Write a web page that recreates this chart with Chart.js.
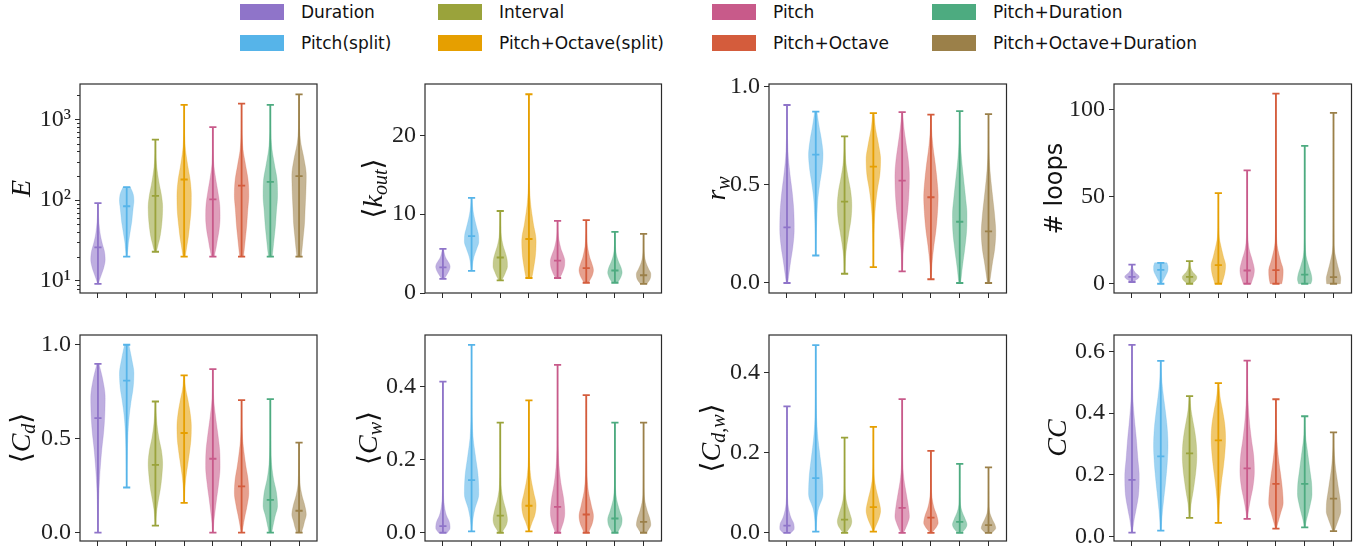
<!DOCTYPE html>
<html>
<head>
<meta charset="utf-8">
<script src="https://cdn.jsdelivr.net/npm/chart.js@4.4.1/dist/chart.umd.min.js"></script>
<style>
  body { margin: 0; background: #fff; }
  #page { position: relative; width: 1367px; height: 557px; overflow: hidden; background: #fff; }
  canvas { position: absolute; }
  .item { position: absolute; display: flex; align-items: center; height: 16px; white-space: nowrap;
          font: 17px "DejaVu Sans", sans-serif; color: #111; }
  .sw { display: inline-block; width: 44px; height: 16px; margin-right: 17px; }
</style>
</head>
<body>
<div id="page"></div>
<script>
// ---- data ----
var groups = ['Duration', 'Pitch(split)', 'Interval', 'Pitch+Octave(split)',
              'Pitch', 'Pitch+Octave', 'Pitch+Duration', 'Pitch+Octave+Duration'];
var colors = ['#8f74c9', '#56b4e9', '#9aa33b', '#e69f00', '#c85a8a', '#d45c3c', '#4dab80', '#9b8049'];

// violin outline is sampled at these fractions between min and max (axis space)
var shapeT = [0, 0.03, 0.07, 0.12, 0.2, 0.3, 0.4, 0.5, 0.6, 0.7, 0.8, 0.9, 1];

// E (log axis)
var eTicks = [10, 100, 1000];
var eMin = [9.2, 20, 23, 20, 20, 20, 20, 20];
var eMax = [92, 145, 560, 1510, 800, 1560, 1510, 2040];
var eMed = [26, 84, 113, 180, 102, 151, 168, 198];
var eShape = [
    [.05, .15, .3, .5, .8, 1, .9, .6, .35, .2, .1, .05, .02],
    [.05, .08, .12, .18, .25, .4, .55, .7, .8, .9, 1, .9, .5],
    [.1, .25, .4, .6, .8, .95, 1, .85, .55, .3, .12, .05, .02],
    [.15, .25, .38, .55, .75, .95, 1, .85, .5, .2, .06, .02, .01],
    [.2, .3, .45, .6, .85, 1, .95, .7, .4, .15, .05, .02, .01],
    [.25, .33, .42, .53, .7, .85, 1, .9, .55, .2, .06, .02, .01],
    [.25, .33, .42, .53, .7, .85, 1, .95, .6, .25, .07, .02, .01],
    [.3, .38, .47, .58, .75, .85, .95, 1, .7, .25, .06, .02, .01]
];

// <k_out>
var kTicks = [0, 10, 20];
var kMin = [1.8, 2.8, 1.6, 1.9, 1.9, 1.3, 1.3, 1.15];
var kMax = [5.6, 12.05, 10.4, 25.2, 9.15, 9.25, 7.75, 7.5];
var kMed = [3.25, 7.2, 4.5, 6.85, 4.1, 3.15, 2.85, 2.25];
var kShape = [
    [.2, .27, .37, .5, .7, .9, 1, .9, .65, .4, .25, .15, .05],
    [.05, .08, .12, .18, .35, .7, 1, .95, .7, .45, .25, .12, .05],
    [.2, .35, .55, .75, 1, .95, .7, .4, .2, .1, .05, .03, .02],
    [.4, .55, .72, .9, 1, .6, .25, .08, .03, .015, .01, .01, .01],
    [.3, .42, .58, .75, .95, 1, .8, .5, .3, .15, .08, .04, .02],
    [.3, .45, .65, .85, 1, .8, .5, .3, .15, .08, .04, .02, .01],
    [.35, .5, .68, .85, 1, .85, .55, .3, .15, .08, .04, .02, .01],
    [.45, .6, .8, .95, 1, .7, .4, .2, .1, .05, .03, .02, .01]
];

// r_w
var rTicks = [0, 0.5, 1.0];
var rMin = [0.0, 0.14, 0.047, 0.081, 0.059, 0.019, 0.0, 0.0];
var rMax = [0.907, 0.873, 0.747, 0.866, 0.871, 0.858, 0.876, 0.861];
var rMed = [0.283, 0.654, 0.415, 0.593, 0.522, 0.437, 0.312, 0.263];
var rShape = [
    [.1, .2, .33, .5, .8, 1, .95, .75, .45, .2, .08, .03, .01],
    [.02, .03, .04, .05, .1, .18, .3, .55, .85, 1, .8, .45, .15],
    [.03, .05, .08, .12, .3, .6, .9, 1, .85, .5, .2, .07, .02],
    [.02, .03, .035, .045, .08, .15, .3, .55, .9, 1, .7, .3, .08],
    [.03, .06, .09, .14, .3, .55, .8, .95, 1, .85, .55, .25, .05],
    [.03, .07, .11, .2, .4, .7, .9, 1, .85, .6, .3, .1, .02],
    [.1, .2, .3, .45, .7, .95, 1, .8, .55, .3, .12, .04, .01],
    [.15, .25, .38, .55, .85, 1, .85, .6, .35, .15, .05, .02, .01]
];

// # loops
var lTicks = [0, 50, 100];
var lMin = [1, 0, 0, 0, 0, 0, 0, 0];
var lMax = [11, 12, 13, 52, 65, 109, 79, 98];
var lMed = [4, 8, 4, 10.7, 7.6, 7.8, 5.2, 3.8];
var lShape = [
    [.2, .3, .42, .55, .85, 1, .85, .55, .35, .2, .12, .08, .05],
    [.1, .14, .19, .28, .4, .55, .7, .85, .95, 1, 1, .95, .85],
    [.3, .42, .58, .75, .95, 1, .8, .5, .3, .18, .1, .06, .04],
    [.5, .6, .75, .9, 1, .7, .4, .15, .06, .03, .02, .01, .01],
    [.55, .7, .9, 1, .75, .3, .1, .04, .02, .01, .01, .01, .01],
    [.8, .95, 1, .65, .18, .05, .02, .01, .01, .01, .01, .01, .01],
    [.85, 1, .9, .6, .2, .05, .02, .01, .01, .01, .01, .01, .01],
    [.95, 1, .8, .5, .12, .03, .01, .01, .01, .01, .01, .01, .01]
];

// <C_d>
var cdTicks = [0, 0.5, 1.0];
var cdMin = [0, 0.24, 0.037, 0.158, 0, 0, 0, 0];
var cdMax = [0.898, 1.0, 0.698, 0.837, 0.87, 0.705, 0.71, 0.479];
var cdMed = [0.609, 0.809, 0.36, 0.53, 0.393, 0.246, 0.174, 0.116];
var cdShape = [
    [.02, .03, .04, .06, .1, .2, .35, .55, .8, .95, 1, .7, .15],
    [.02, .025, .03, .04, .07, .12, .2, .35, .6, .9, 1, .7, .3],
    [.03, .06, .1, .18, .4, .7, .9, 1, .85, .5, .25, .1, .03],
    [.03, .05, .07, .12, .25, .5, .75, .95, 1, .85, .55, .2, .05],
    [.03, .08, .15, .28, .5, .8, 1, .95, .7, .4, .15, .05, .02],
    [.05, .15, .28, .45, .75, 1, .9, .6, .35, .15, .06, .03, .01],
    [.2, .3, .45, .65, 1, .85, .45, .2, .08, .04, .02, .01, .01],
    [.35, .45, .6, .75, 1, .8, .45, .2, .1, .05, .03, .02, .01]
];

// <C_w>
var cwTicks = [0, 0.2, 0.4];
var cwMin = [0, 0.0036, 0, 0.0036, 0, 0, 0, 0];
var cwMax = [0.414, 0.515, 0.302, 0.363, 0.46, 0.377, 0.302, 0.302];
var cwMed = [0.018, 0.144, 0.047, 0.074, 0.071, 0.05, 0.039, 0.03];
var cwShape = [
    [.6, 1, .9, .45, .15, .05, .03, .02, .015, .01, .01, .01, .01],
    [.03, .08, .2, .45, 1, .9, .55, .22, .08, .04, .02, .01, .01],
    [.2, .5, .85, 1, .8, .4, .15, .06, .03, .02, .01, .01, .01],
    [.05, .2, .45, .8, 1, .65, .3, .12, .05, .03, .02, .01, .01],
    [.3, .55, .85, 1, .85, .45, .2, .08, .04, .02, .01, .01, .01],
    [.3, .55, .85, 1, .7, .3, .12, .05, .03, .02, .01, .01, .01],
    [.35, .6, .9, 1, .65, .25, .08, .03, .02, .01, .01, .01, .01],
    [.4, .7, 1, .9, .5, .15, .05, .02, .01, .01, .01, .01, .01]
];

// <C_{d,w}>
var cdwTicks = [0, 0.2, 0.4];
var cdwMin = [0, 0.003, 0, 0.003, 0, 0, 0, 0];
var cdwMax = [0.315, 0.468, 0.237, 0.264, 0.333, 0.204, 0.172, 0.163];
var cdwMed = [0.018, 0.136, 0.033, 0.064, 0.062, 0.038, 0.027, 0.019];
var cdwShape = [
    [.55, 1, .95, .55, .2, .06, .03, .02, .015, .01, .01, .01, .01],
    [.03, .07, .15, .35, 1, .9, .6, .3, .12, .05, .03, .02, .01],
    [.25, .5, .85, 1, .75, .35, .12, .05, .03, .02, .01, .01, .01],
    [.05, .2, .45, .75, 1, .75, .4, .15, .06, .03, .02, .01, .01],
    [.2, .45, .75, 1, .85, .55, .25, .1, .05, .03, .02, .01, .01],
    [.15, .4, .75, 1, .85, .45, .2, .08, .04, .02, .01, .01, .01],
    [.3, .55, .85, 1, .75, .35, .12, .05, .03, .02, .01, .01, .01],
    [.45, .75, 1, .9, .55, .2, .07, .03, .02, .01, .01, .01, .01]
];

// CC
var ccTicks = [0, 0.2, 0.4, 0.6];
var ccMin = [0.013, 0.02, 0.061, 0.045, 0.058, 0.026, 0.03, 0.018];
var ccMax = [0.621, 0.569, 0.455, 0.497, 0.57, 0.445, 0.39, 0.338];
var ccMed = [0.184, 0.26, 0.27, 0.312, 0.221, 0.171, 0.171, 0.123];
var ccShape = [
    [.05, .15, .3, .55, .9, 1, .8, .6, .35, .15, .07, .03, .01],
    [.03, .08, .15, .25, .45, .7, .9, 1, .9, .65, .35, .12, .03],
    [.03, .07, .13, .22, .45, .7, .9, 1, .95, .75, .45, .18, .04],
    [.02, .04, .07, .12, .25, .45, .7, .9, 1, .9, .6, .25, .05],
    [.05, .12, .25, .45, .8, 1, .9, .6, .35, .18, .08, .03, .01],
    [.08, .2, .4, .65, 1, .9, .7, .45, .25, .12, .05, .02, .01],
    [.05, .12, .25, .45, .75, 1, .95, .75, .55, .35, .15, .05, .02],
    [.1, .25, .45, .7, 1, .95, .75, .55, .35, .2, .1, .04, .01]
];

// ---- helpers ----
var supDigits = { 1: '\u00b9', 2: '\u00b2', 3: '\u00b3' };
function fmtLog(v) { return '10' + supDigits[Math.round(Math.log10(v))]; }
function fmtInt(v) { return String(v); }
function fmtDec(v) { return v.toFixed(1); }

// monotone cubic through the outline samples, evaluated at n+1 points
function smoothProfile(xs, ys, n) {
    var m = xs.length, d = [], sl = [];
    for (var k = 0; k < m - 1; k++) d.push((ys[k + 1] - ys[k]) / (xs[k + 1] - xs[k]));
    sl[0] = d[0]; sl[m - 1] = d[m - 2];
    for (k = 1; k < m - 1; k++) sl[k] = d[k - 1] * d[k] <= 0 ? 0 : (d[k - 1] + d[k]) / 2;
    for (k = 0; k < m - 1; k++) {
        if (d[k] === 0) { sl[k] = 0; sl[k + 1] = 0; continue; }
        var a = sl[k] / d[k], b = sl[k + 1] / d[k], s = a * a + b * b;
        if (s > 9) { var tt = 3 / Math.sqrt(s); sl[k] = tt * a * d[k]; sl[k + 1] = tt * b * d[k]; }
    }
    var out = [];
    for (var j = 0; j <= n; j++) {
        var x = j / n, i = 0;
        while (i < m - 2 && x > xs[i + 1]) i++;
        var h = xs[i + 1] - xs[i], t = (x - xs[i]) / h;
        var t2 = t * t, t3 = t2 * t;
        out.push((2 * t3 - 3 * t2 + 1) * ys[i] + (t3 - 2 * t2 + t) * h * sl[i] +
                 (-2 * t3 + 3 * t2) * ys[i + 1] + (t3 - t2) * h * sl[i + 1]);
    }
    return out;
}

function hexA(hex, a) {
    var n = parseInt(hex.slice(1), 16);
    return 'rgba(' + (n >> 16) + ',' + ((n >> 8) & 255) + ',' + (n & 255) + ',' + a + ')';
}

function drawTitle(chart, parts, tx) {
    var ctx = chart.ctx, area = chart.chartArea, size = 28;
    function fontOf(s) {
        if (s === 'n') return '24px "DejaVu Sans", sans-serif';
        if (s === 'i') return 'italic ' + size + 'px "Liberation Serif", "DejaVu Serif", serif';
        if (s === 's') return 'italic ' + Math.round(size * 0.7) + 'px "Liberation Serif", "DejaVu Serif", serif';
        return size + 'px "Liberation Serif", "DejaVu Serif", serif';
    }
    ctx.save();
    var total = 0;
    var widths = parts.map(function (p) {
        ctx.font = fontOf(p[1]);
        var w = ctx.measureText(p[0]).width;
        total += w;
        return w;
    });
    ctx.translate(area.left + tx, (area.top + area.bottom) / 2);
    ctx.rotate(-Math.PI / 2);
    ctx.fillStyle = '#111';
    ctx.textBaseline = 'alphabetic';
    var x = -total / 2;
    parts.forEach(function (p, i) {
        ctx.font = fontOf(p[1]);
        ctx.fillText(p[0], x, p[1] === 's' ? size * 0.5 : size * 0.33);
        x += widths[i];
    });
    ctx.restore();
}

var violinPlugin = {
    id: 'violins',
    afterDatasetsDraw: function (chart) {
        var ctx = chart.ctx, xs = chart.scales.x, ys = chart.scales.y;
        ctx.save();
        chart.data.datasets.forEach(function (ds, i) {
            var xc = xs.getPixelForValue(ds.data[0].x);
            var hw = xs.getPixelForValue(ds.data[0].x + 0.25) - xc;
            var y0 = ys.getPixelForValue(ds.vmin), y1 = ys.getPixelForValue(ds.vmax);
            var ym = ys.getPixelForValue(ds.data[0].y);
            var n = 80, prof = smoothProfile(shapeT, ds.shape, n);
            ctx.beginPath();
            for (var j = 0; j <= n; j++) {
                var y = y0 + (y1 - y0) * j / n;
                var w = Math.max(prof[j], 0.01) * hw;
                if (j === 0) ctx.moveTo(xc - w, y); else ctx.lineTo(xc - w, y);
            }
            for (j = n; j >= 0; j--) {
                y = y0 + (y1 - y0) * j / n;
                w = Math.max(prof[j], 0.01) * hw;
                ctx.lineTo(xc + w, y);
            }
            ctx.closePath();
            ctx.fillStyle = hexA(ds.color, 0.58);
            ctx.fill();
            ctx.strokeStyle = hexA(ds.color, 0.25);
            ctx.lineWidth = 1;
            ctx.stroke();

            ctx.strokeStyle = ds.color;
            ctx.lineWidth = 1.8;
            ctx.beginPath();
            ctx.moveTo(xc, y0); ctx.lineTo(xc, y1);
            [y0, y1, ym].forEach(function (yy) {
                ctx.moveTo(xc - hw / 2, yy); ctx.lineTo(xc + hw / 2, yy);
            });
            ctx.stroke();
        });
        ctx.restore();
    },
    afterDraw: function (chart, args, opts) {
        var ctx = chart.ctx, a = chart.chartArea;
        ctx.save();
        ctx.strokeStyle = '#2b2b2b';
        ctx.lineWidth = 1.2;
        ctx.strokeRect(a.left, a.top, a.right - a.left, a.bottom - a.top);
        if (opts.log) {
            var ys = chart.scales.y;
            ctx.lineWidth = 1;
            ctx.beginPath();
            for (var d = 0; d < 4; d++) {
                for (var k = 2; k < 10; k++) {
                    var v = k * Math.pow(10, d);
                    if (v < ys.min || v > ys.max) continue;
                    var py = Math.round(ys.getPixelForValue(v)) + 0.5;
                    ctx.moveTo(a.left - 3, py); ctx.lineTo(a.left, py);
                }
            }
            ctx.stroke();
        }
        ctx.restore();
        drawTitle(chart, opts.title, opts.tx);
    }
};

var panels = [
    { box: [0, 60, 335, 250], area: [80, 84, 317, 293], log: true, yMin: 7.1, yMax: 2735,
      ticks: eTicks, mins: eMin, maxs: eMax, meds: eMed, shapes: eShape, fmt: fmtLog,
      title: [['E', 'i']], tx: -59 },
    { box: [340, 60, 335, 250], area: [425, 84, 661.5, 293], yMin: 0, yMax: 26.5,
      ticks: kTicks, mins: kMin, maxs: kMax, meds: kMed, shapes: kShape, fmt: fmtInt,
      title: [['\u27e8', 'r'], ['k', 'i'], ['out', 's'], ['\u27e9', 'r']], tx: -52 },
    { box: [680, 60, 340, 250], area: [769, 84, 1006.5, 293], yMin: -0.051, yMax: 1.014,
      ticks: rTicks, mins: rMin, maxs: rMax, meds: rMed, shapes: rShape, fmt: fmtDec,
      title: [['r', 'i'], ['w', 's']], tx: -53 },
    { box: [1020, 60, 347, 250], area: [1114, 84, 1351.5, 293], yMin: -5.3, yMax: 114.5,
      ticks: lTicks, mins: lMin, maxs: lMax, meds: lMed, shapes: lShape, fmt: fmtInt,
      title: [['# loops', 'n']], tx: -61 },
    { box: [0, 310, 335, 247], area: [80, 335, 317, 543], yMin: -0.045, yMax: 1.052,
      ticks: cdTicks, mins: cdMin, maxs: cdMax, meds: cdMed, shapes: cdShape, fmt: fmtDec,
      title: [['\u27e8', 'r'], ['C', 'i'], ['d', 's'], ['\u27e9', 'r']], tx: -59 },
    { box: [340, 310, 335, 247], area: [425, 335, 661.5, 543], yMin: -0.0226, yMax: 0.542,
      ticks: cwTicks, mins: cwMin, maxs: cwMax, meds: cwMed, shapes: cwShape, fmt: fmtDec,
      title: [['\u27e8', 'r'], ['C', 'i'], ['w', 's'], ['\u27e9', 'r']], tx: -57 },
    { box: [680, 310, 340, 247], area: [769, 335, 1006.5, 543], yMin: -0.0205, yMax: 0.493,
      ticks: cdwTicks, mins: cdwMin, maxs: cdwMax, meds: cdwMed, shapes: cdwShape, fmt: fmtDec,
      title: [['\u27e8', 'r'], ['C', 'i'], ['d,w', 's'], ['\u27e9', 'r']], tx: -58 },
    { box: [1020, 310, 347, 247], area: [1114, 335, 1351.5, 543], yMin: -0.0139, yMax: 0.653,
      ticks: ccTicks, mins: ccMin, maxs: ccMax, meds: ccMed, shapes: ccShape, fmt: fmtDec,
      title: [['CC', 'i']], tx: -57 }
];

var page = document.getElementById('page');

// legend (two rows, four columns)
var colX = [240, 438, 712, 932], rowY = [12, 43];
groups.forEach(function (g, i) {
    var item = document.createElement('div');
    item.className = 'item';
    item.style.left = colX[Math.floor(i / 2)] + 'px';
    item.style.top = (rowY[i % 2] - 8) + 'px';
    item.innerHTML = '<span class="sw" style="background:' + colors[i] + '"></span><span>' + g + '</span>';
    page.appendChild(item);
});

var tickFont = { family: '"Liberation Serif", "DejaVu Serif", serif', size: 24, lineHeight: 1 };

panels.forEach(function (p, idx) {
    var cv = document.createElement('canvas');
    cv.width = p.box[2]; cv.height = p.box[3];
    cv.style.left = p.box[0] + 'px'; cv.style.top = p.box[1] + 'px';
    cv.style.width = p.box[2] + 'px'; cv.style.height = p.box[3] + 'px';
    page.appendChild(cv);

    var datasets = groups.map(function (g, i) {
        return {
            label: g, data: [{ x: i + 1, y: p.meds[i] }],
            vmin: p.mins[i], vmax: p.maxs[i], shape: p.shapes[i], color: colors[i],
            pointRadius: 0, showLine: false
        };
    });

    new Chart(cv.getContext('2d'), {
        type: 'scatter',
        data: { datasets: datasets },
        options: {
            responsive: false,
            animation: false,
            events: [],
            layout: { padding: { left: 0, top: p.area[1] - p.box[1], right: p.box[0] + p.box[2] - p.area[2], bottom: 0 } },
            plugins: {
                legend: { display: false },
                tooltip: { enabled: false },
                violins: { title: p.title, tx: p.tx, log: !!p.log }
            },
            scales: {
                x: {
                    type: 'linear', min: 0.375, max: 8.625,
                    afterBuildTicks: function (s) { s.ticks = groups.map(function (g, i) { return { value: i + 1 }; }); },
                    afterFit: function (s) { s.height = p.box[1] + p.box[3] - p.area[3]; },
                    grid: { drawOnChartArea: false, drawTicks: true, tickLength: 5, color: '#2b2b2b', lineWidth: 1 },
                    border: { display: false },
                    ticks: { display: false, autoSkip: false }
                },
                y: {
                    type: p.log ? 'logarithmic' : 'linear', min: p.yMin, max: p.yMax,
                    afterBuildTicks: function (s) { s.ticks = p.ticks.map(function (v) { return { value: v }; }); },
                    afterFit: function (s) { s.width = p.area[0] - p.box[0]; },
                    grid: { drawOnChartArea: false, drawTicks: true, tickLength: 5, color: '#2b2b2b', lineWidth: 1 },
                    border: { display: false },
                    ticks: {
                        autoSkip: false, padding: 4, color: '#222', font: tickFont,
                        callback: function (v) { return p.fmt(v); }
                    }
                }
            }
        },
        plugins: [violinPlugin]
    });
});
</script>
</body>
</html>
